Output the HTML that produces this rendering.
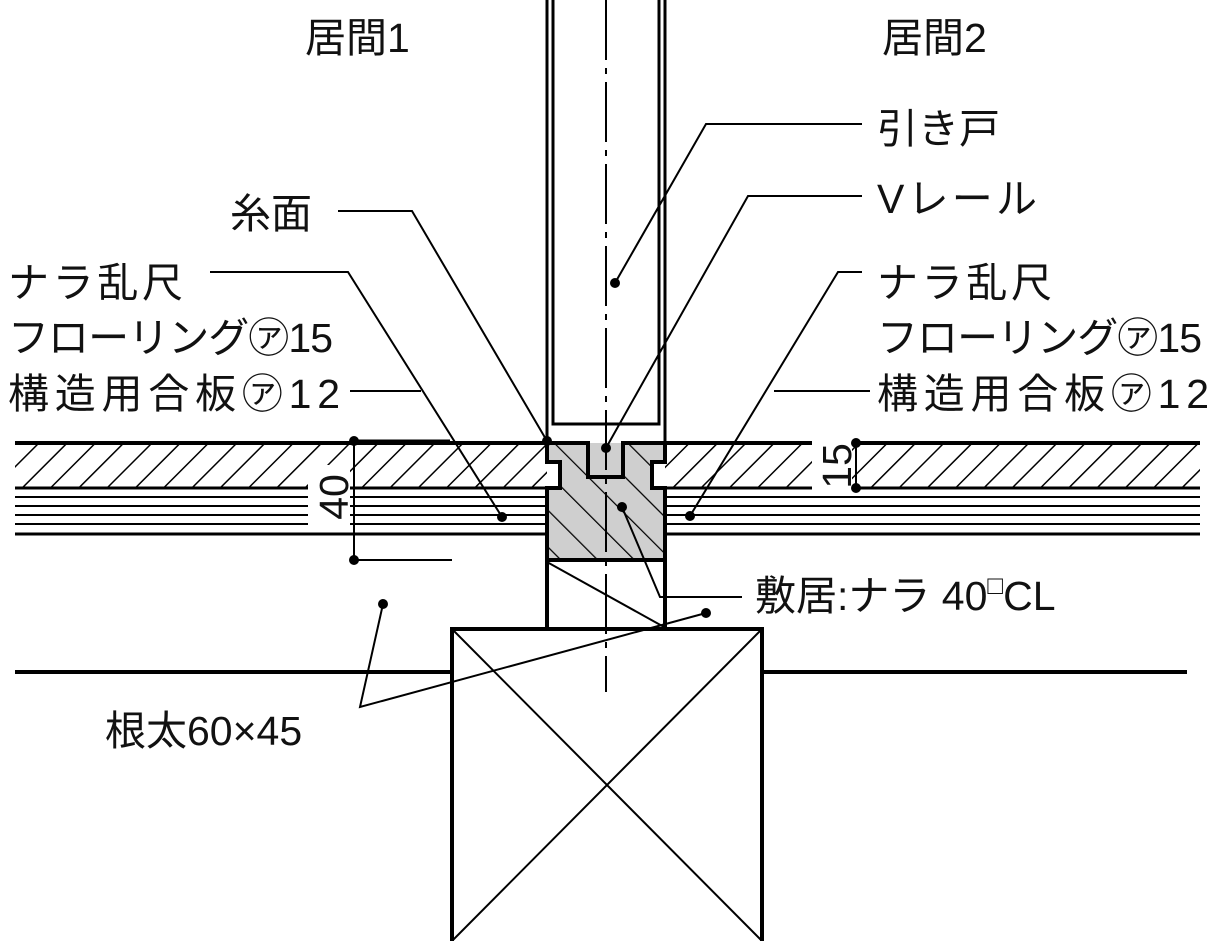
<!DOCTYPE html>
<html><head><meta charset="utf-8"><style>
html,body{margin:0;padding:0;background:#fff;}
svg{display:block}
text{font-family:"Liberation Sans","Noto Sans CJK JP",sans-serif;font-size:41px;fill:#111}
</style></head><body>
<svg width="1210" height="941" viewBox="0 0 1210 941" xmlns="http://www.w3.org/2000/svg">
<defs>
<pattern id="h1" width="20" height="20" patternUnits="userSpaceOnUse" patternTransform="rotate(45)">
<line x1="0" y1="0" x2="0" y2="20" stroke="#000" stroke-width="3"/></pattern>
<pattern id="h2" width="26" height="26" patternUnits="userSpaceOnUse" patternTransform="rotate(-45)">
<rect width="26" height="26" fill="#cfcfcf"/>
<line x1="0" y1="0" x2="0" y2="26" stroke="#000" stroke-width="2.5"/></pattern>
</defs>
<g stroke="#000" fill="none">
<rect x="15" y="443" width="532" height="45" fill="url(#h1)" stroke="none"/>
<rect x="665" y="443" width="535" height="45" fill="url(#h1)" stroke="none"/>
<line x1="15" y1="443" x2="547" y2="443" stroke-width="4"/>
<line x1="665" y1="443" x2="1200" y2="443" stroke-width="4"/>
<line x1="15" y1="488" x2="547" y2="488" stroke-width="3"/>
<line x1="665" y1="488" x2="1200" y2="488" stroke-width="3"/>
<g stroke-width="2">
<line x1="15" y1="497" x2="547" y2="497"/><line x1="15" y1="506" x2="547" y2="506"/>
<line x1="15" y1="515" x2="547" y2="515"/><line x1="15" y1="524" x2="547" y2="524"/>
<line x1="665" y1="497" x2="1200" y2="497"/><line x1="665" y1="506" x2="1200" y2="506"/>
<line x1="665" y1="515" x2="1200" y2="515"/><line x1="665" y1="524" x2="1200" y2="524"/>
</g>
<line x1="15" y1="534" x2="547" y2="534" stroke-width="3"/>
<line x1="665" y1="534" x2="1200" y2="534" stroke-width="3"/>
<rect x="308" y="465" width="42" height="60" fill="#fff" stroke="none"/>
<rect x="812" y="440" width="40" height="55" fill="#fff" stroke="none"/>
<path d="M547,443 H588 V477 H623 V443 H665 V462 H652 V488 H665 V560 H547 V488 H560 V462 H547 Z" fill="url(#h2)" stroke-width="4"/>
<path d="M588,443 V477 H623 V443" fill="#cfcfcf" stroke-width="4"/>
<line x1="547" y1="0" x2="547" y2="443" stroke-width="3"/>
<line x1="665" y1="0" x2="665" y2="443" stroke-width="3"/>
<path d="M553,0 V424 H659 V0" stroke-width="3"/>
<line x1="606" y1="0" x2="606" y2="692" stroke-width="2" stroke-dasharray="60,8,6,8"/>
<line x1="547" y1="560" x2="547" y2="629" stroke-width="4"/>
<line x1="665" y1="560" x2="665" y2="629" stroke-width="4"/>
<line x1="547" y1="562" x2="664" y2="627" stroke-width="2"/>
<rect x="452" y="629" width="310" height="320" stroke-width="4" fill="none"/>
<line x1="452" y1="629" x2="762" y2="941" stroke-width="2"/>
<line x1="762" y1="629" x2="452" y2="941" stroke-width="2"/>
<line x1="15" y1="672" x2="452" y2="672" stroke-width="4"/>
<line x1="762" y1="672" x2="1187" y2="672" stroke-width="4"/>
<line x1="354" y1="441" x2="354" y2="560" stroke-width="2"/>
<line x1="354" y1="441" x2="450" y2="441" stroke-width="3"/>
<line x1="354" y1="560" x2="452" y2="560" stroke-width="2"/>
<line x1="856" y1="443" x2="856" y2="488" stroke-width="2"/>
<g stroke-width="2">
<polyline points="862,124 706,124 615,283"/>
<polyline points="862,196 748,196 606,448"/>
<polyline points="338,211 412,211 547,441"/>
<polyline points="210,272 348,272 502,517"/>
<line x1="350" y1="391" x2="421" y2="391"/>
<polyline points="862,272 838,272 690,516"/>
<line x1="870" y1="391" x2="774" y2="391"/>
<polyline points="622,507 660,597 742,597"/>
<polyline points="383,604 360,707 706,613"/>
</g>
</g>
<g fill="#000">
<circle cx="615" cy="283" r="5"/><circle cx="606" cy="448" r="5"/><circle cx="547" cy="441" r="5"/>
<circle cx="502" cy="517" r="5"/><circle cx="690" cy="516" r="5"/><circle cx="622" cy="507" r="5"/>
<circle cx="383" cy="604" r="5"/><circle cx="706" cy="613" r="5"/>
<circle cx="354" cy="441" r="5"/><circle cx="354" cy="560" r="5"/>
<circle cx="856" cy="443" r="5"/><circle cx="856" cy="488" r="5"/>
</g>
<text x="305" y="52">居間1</text>
<text x="882" y="52">居間2</text>
<text x="877" y="143">引き戸</text>
<text x="877" y="213" textLength="160">Vレール</text>
<text x="230" y="228">糸面</text>
<text x="8" y="297" textLength="175">ナラ乱尺</text>
<text x="8" y="352" textLength="325">フローリング㋐15</text>
<text x="8" y="408" textLength="332">構造用合板㋐12</text>
<text x="877" y="297" textLength="175">ナラ乱尺</text>
<text x="877" y="352" textLength="325">フローリング㋐15</text>
<text x="877" y="408" textLength="332">構造用合板㋐12</text>
<text x="755" y="610">敷居:ナラ 40<tspan font-size="26" dy="-16">□</tspan><tspan dy="16">CL</tspan></text>
<text x="105" y="745" font-size="42">根太60×45</text>
<text transform="translate(348,497) rotate(-90)" text-anchor="middle">40</text>
<text transform="translate(851,466) rotate(-90)" text-anchor="middle">15</text>
</svg>
</body></html>
